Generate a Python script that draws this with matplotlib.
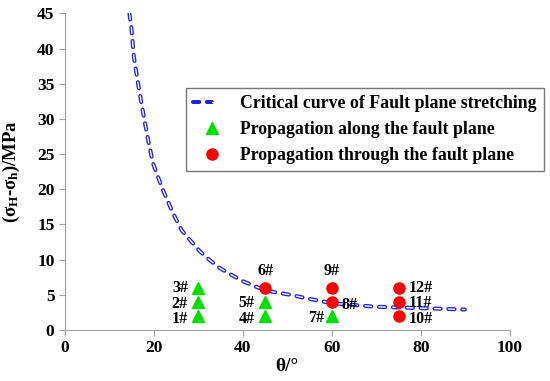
import matplotlib
matplotlib.use("Agg")
from matplotlib import pyplot as plt
from matplotlib.legend_handler import HandlerTuple

# critical curve
curve_theta = [14.5, 15.0, 15.5, 16.5, 17.6, 18.7, 19.8, 21.7, 22.5, 24.3, 26.2, 28.5, 30.3,
               32.6, 34.8, 37.5, 40.1, 43.1, 46.8, 50.6, 55.1, 60.0, 69.7, 80.0, 89.9]
curve_stress = [45.0, 42.6, 38.8, 34.8, 30.8, 27.0, 23.7, 20.4, 19.2, 16.6, 14.2, 12.5, 11.2,
                9.9, 8.8, 7.8, 6.9, 6.1, 5.4, 5.0, 4.4, 3.8, 3.3, 3.1, 2.9]

# propagation along the fault plane
along_theta = [30, 30, 30, 45, 45, 60]
along_stress = [2, 4, 6, 2, 4, 2]
along_labels = ["1#", "2#", "3#", "4#", "5#", "7#"]

# propagation through the fault plane
through_theta = [45, 60, 60, 75, 75, 75]
through_stress = [6, 4, 6, 2, 4, 6]
through_labels = ["6#", "8#", "9#", "10#", "11#", "12#"]

plt.rcParams["font.family"] = ["Liberation Serif", "DejaVu Serif"]
plt.rcParams["font.weight"] = "bold"
plt.rcParams["mathtext.fontset"] = "custom"
plt.rcParams["mathtext.rm"] = "Liberation Serif:bold"
plt.rcParams["mathtext.it"] = "Liberation Serif:bold"
plt.rcParams["mathtext.bf"] = "Liberation Serif:bold"
plt.rcParams["lines.scale_dashes"] = False

fig = plt.figure(figsize=(5.5, 3.81), dpi=100)
ax = fig.add_axes([0.118, 0.134, 0.809, 0.831])

# hollow dashed curve: thick blue dashes with a thin white core
dash = (4.5, 5.5)
l_out, = ax.plot(curve_theta, curve_stress, color="#1f1fee", lw=2.9, dashes=dash,
                 dash_capstyle="round")
l_in, = ax.plot(curve_theta, curve_stress, color="white", lw=1.0, dashes=dash,
                dash_capstyle="round")
tri, = ax.plot(along_theta, along_stress, "^", color="#00e000", ms=9, ls="none")
dot, = ax.plot(through_theta, through_stress, "o", color="#ff0000", ms=8, ls="none")

# point labels: offsets in points
offsets = {"1#": (-7.5, -2.5), "2#": (-7.5, -1.5), "3#": (-7.5, -0.5),
           "4#": (-7.5, -2.5), "5#": (-7.5, -1), "7#": (-5.5, -1.5),
           "8#": (7, -2.5), "10#": (7, -2), "11#": (7, -1), "12#": (7, 0)}
for t, s, lab in zip(along_theta + through_theta, along_stress + through_stress,
                     along_labels + through_labels):
    if lab in ("6#", "9#"):
        ax.annotate(lab, (t, s), xytext=(0, 6.3), textcoords="offset points",
                    ha="center", va="bottom", fontsize=11.5, fontweight="bold")
    else:
        dx, dy = offsets[lab]
        ax.annotate(lab, (t, s), xytext=(dx, dy), textcoords="offset points",
                    ha="right" if dx < 0 else "left", va="center",
                    fontsize=11.5, fontweight="bold")

ax.set_xlim(0, 100)
ax.set_ylim(0, 45)
ax.set_xticks([0, 20, 40, 60, 80, 100])
ax.set_yticks(range(0, 50, 5))
for sp in ["top", "right"]:
    ax.spines[sp].set_visible(False)
for sp in ["left", "bottom"]:
    ax.spines[sp].set_color("#a0a0a0")
ax.tick_params(colors="#a0a0a0", labelcolor="black", labelsize=12.5, length=4)
for lab in ax.get_xticklabels() + ax.get_yticklabels():
    lab.set_fontweight("bold")

ax.set_xlabel("θ/°", fontsize=14, fontweight="bold", labelpad=1)
ax.set_ylabel(r"($\sigma_{\mathrm{H}}$-$\sigma_{\mathrm{h}}$)/MPa", fontsize=13.5,
              fontweight="bold")
ax.yaxis.set_label_coords(-0.097, 0.5)

leg = ax.legend([(l_out, l_in), tri, dot],
                ["Critical curve of Fault plane stretching",
                 "Propagation along the fault plane",
                 "Propagation through the fault plane"],
                handler_map={tuple: HandlerTuple(ndivide=None, pad=0)},
                loc="upper left", bbox_to_anchor=(0.272, 0.764),
                frameon=True, fancybox=False, borderpad=0.4, labelspacing=0.5,
                handlelength=2.1, handletextpad=0.56, borderaxespad=0,
                prop={"weight": "bold", "size": 12.8})
leg.get_frame().set_edgecolor("#555555")
leg.get_frame().set_linewidth(1.0)

fig.savefig("out.png", dpi=100)
